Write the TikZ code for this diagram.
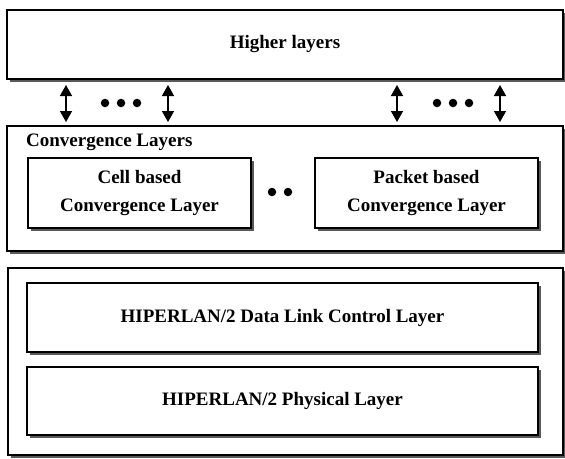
\documentclass[tikz,border=0pt]{standalone}
\usepackage{fontspec}
\setmainfont{Liberation Serif}
\usetikzlibrary{arrows.meta,shadows}

\tikzset{
  layerbox/.style={draw=black, line width=1.3pt, fill=white, inner sep=0pt,
    align=center, font=\fontsize{19}{28}\selectfont\bfseries,
    drop shadow={shadow xshift=2.6pt, shadow yshift=-2.6pt, fill=black!65, opacity=1}},
  updown/.style={{Triangle[length=11pt,width=12pt]}-{Triangle[length=11pt,width=12pt]}, line width=1.5pt},
  dotmark/.style={circle, fill=black, inner sep=0pt, minimum size=8.5pt}
}

\begin{document}
\begin{tikzpicture}[x=1pt, y=-1pt]
  \useasboundingbox (0,0) rectangle (565,458);

  % top block
  \node[layerbox, minimum width=556pt, minimum height=69pt] (higher) at (285,44.5) {Higher layers};

  % convergence block with its two sub-layers
  \node[layerbox, minimum width=556pt, minimum height=125pt] (conv) at (285,188.5) {};
  \node[anchor=base west, font=\fontsize{19}{28}\selectfont\bfseries, inner sep=0pt] (convlabel) at (26,146) {Convergence Layers};
  \node[layerbox, minimum width=223pt, minimum height=70pt] (cell) at (139.5,193) {Cell based\\Convergence Layer};
  \node[layerbox, minimum width=223pt, minimum height=70pt] (packet) at (426.5,193) {Packet based\\Convergence Layer};
  \node[dotmark] (m1) at (272,192) {};
  \node[dotmark] (m2) at (288,192) {};

  % HIPERLAN/2 core block
  \node[layerbox, minimum width=555pt, minimum height=187pt] (core) at (285.5,361.5) {};
  \node[layerbox, minimum width=511pt, minimum height=69pt] (dlc) at (282.5,317.5) {HIPERLAN/2 Data Link Control Layer};
  \node[layerbox, minimum width=511pt, minimum height=68pt] (phy) at (282.5,401) {HIPERLAN/2 Physical Layer};

  % service access points between higher layers and convergence layers
  \foreach \i/\x in {1/66, 2/168, 3/397, 4/500} {
    \coordinate (up\i) at (\x,85);
    \coordinate (dn\i) at (\x,122);
    \draw[updown] (up\i) -- (dn\i);
  }
  \foreach \j/\x in {1/105, 2/121, 3/137, 4/437, 5/453, 6/469}
    \node[dotmark] (d\j) at (\x,103) {};
\end{tikzpicture}
\end{document}
